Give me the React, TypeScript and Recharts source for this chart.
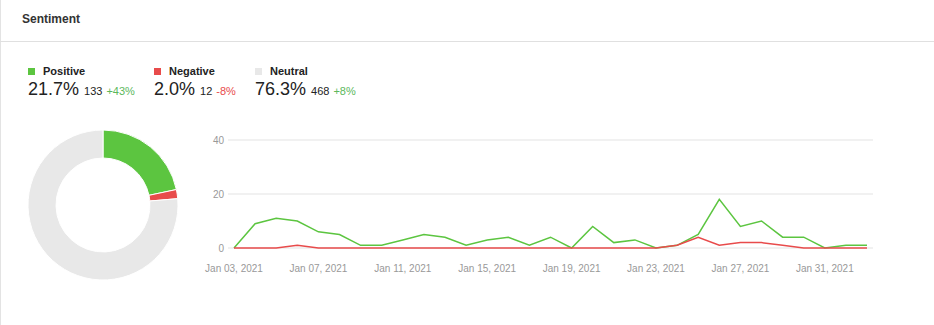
import { LineChart, Line, XAxis, YAxis, CartesianGrid, PieChart, Pie, Cell } from "recharts";

const days = [
  "Jan 03, 2021", "Jan 04, 2021", "Jan 05, 2021", "Jan 06, 2021", "Jan 07, 2021", "Jan 08, 2021",
  "Jan 09, 2021", "Jan 10, 2021", "Jan 11, 2021", "Jan 12, 2021", "Jan 13, 2021", "Jan 14, 2021",
  "Jan 15, 2021", "Jan 16, 2021", "Jan 17, 2021", "Jan 18, 2021", "Jan 19, 2021", "Jan 20, 2021",
  "Jan 21, 2021", "Jan 22, 2021", "Jan 23, 2021", "Jan 24, 2021", "Jan 25, 2021", "Jan 26, 2021",
  "Jan 27, 2021", "Jan 28, 2021", "Jan 29, 2021", "Jan 30, 2021", "Jan 31, 2021", "Feb 01, 2021",
  "Feb 02, 2021",
];
const positive = [0, 9, 11, 10, 6, 5, 1, 1, 3, 5, 4, 1, 3, 4, 1, 4, 0, 8, 2, 3, 0, 1, 5, 18, 8, 10, 4, 4, 0, 1, 1];
const negative = [0, 0, 0, 1, 0, 0, 0, 0, 0, 0, 0, 0, 0, 0, 0, 0, 0, 0, 0, 0, 0, 1, 4, 1, 2, 2, 1, 0, 0, 0, 0];
const yTicks = [0, 20, 40];

const sentiments = [
  { name: "Positive", pct: "21.7%", count: 133, change: "+43%", color: "#5cc540", changeColor: "#5cb85c" },
  { name: "Negative", pct: "2.0%", count: 12, change: "-8%", color: "#e84b4b", changeColor: "#e84b4b" },
  { name: "Neutral", pct: "76.3%", count: 468, change: "+8%", color: "#e8e8e8", changeColor: "#5cb85c" },
];
const legendX = [28, 154, 255];

const rows = days.map((d, i) => ({ date: d, positive: positive[i], negative: negative[i] }));

export default function App() {
  return (
    <div
      style={{
        position: "fixed",
        left: 0,
        top: 0,
        width: 934,
        height: 325,
        background: "#fff",
        fontFamily: "Arial, 'Liberation Sans', sans-serif",
        overflow: "hidden",
      }}
    >
      <div style={{ position: "absolute", left: 0, top: 0, bottom: 0, width: 1, background: "#e3e3e3" }} />
      <div style={{ position: "absolute", left: 22, top: 12, fontSize: 12, fontWeight: "bold", color: "#333" }}>
        Sentiment
      </div>
      <div style={{ position: "absolute", left: 0, right: 0, top: 41, height: 1, background: "#e0e0e0" }} />

      {sentiments.map((s, i) => (
        <div key={s.name} style={{ position: "absolute", left: legendX[i], top: 64 }}>
          <div style={{ display: "flex", alignItems: "center", height: 14 }}>
            <span style={{ width: 7, height: 7, background: s.color, display: "inline-block", marginRight: 8 }} />
            <span style={{ fontSize: 11, fontWeight: "bold", color: "#222" }}>{s.name}</span>
          </div>
          <div style={{ whiteSpace: "nowrap", marginTop: 1 }}>
            <span style={{ fontSize: 18, color: "#222" }}>{s.pct}</span>
            <span style={{ fontSize: 11, color: "#222", marginLeft: 5 }}>{s.count}</span>
            <span style={{ fontSize: 11, color: s.changeColor, marginLeft: 4 }}>{s.change}</span>
          </div>
        </div>
      ))}

      <div style={{ position: "absolute", left: -2, top: 100 }}>
        <PieChart width={200} height={200}>
          <Pie
            data={sentiments}
            dataKey="count"
            nameKey="name"
            cx={100}
            cy={100}
            innerRadius={47}
            outerRadius={75}
            startAngle={90}
            endAngle={-270}
            stroke="#fff"
            strokeWidth={1}
            isAnimationActive={false}
          >
            {sentiments.map((s) => (
              <Cell key={s.name} fill={s.color} />
            ))}
          </Pie>
        </PieChart>
      </div>

      <div style={{ position: "absolute", left: 190, top: 130 }}>
        <LineChart width={700} height={150} data={rows} margin={{ top: 10, right: 17, left: 0, bottom: 0 }}>
          <CartesianGrid vertical={false} stroke="#e3e3e3" />
          <XAxis
            dataKey="date"
            interval={3}
            axisLine={false}
            tickLine={false}
            tickSize={0}
            tickMargin={17}
            height={32}
            padding={{ left: 6, right: 6 }}
            tick={{ fontSize: 10, fill: "#999" }}
          />
          <YAxis
            domain={[0, 40]}
            ticks={yTicks}
            width={38}
            axisLine={false}
            tickLine={false}
            tickSize={0}
            tickMargin={4}
            tick={{ fontSize: 10, fill: "#999" }}
          />
          <Line type="linear" dataKey="positive" stroke="#5cc540" strokeWidth={1.5} dot={false} isAnimationActive={false} />
          <Line type="linear" dataKey="negative" stroke="#e84b4b" strokeWidth={1.5} dot={false} isAnimationActive={false} />
        </LineChart>
      </div>
    </div>
  );
}
